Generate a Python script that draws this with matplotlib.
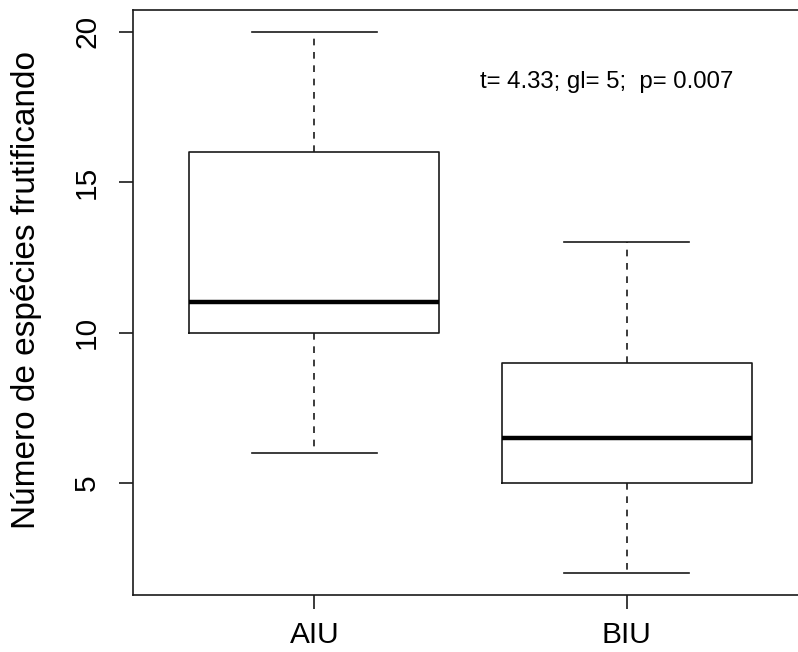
import matplotlib
matplotlib.use("Agg")
import matplotlib.pyplot as plt

# boxplot summary for each site group
groups = ["AIU", "BIU"]
whis_lo = [6, 2]
q1 = [10, 5]
medians = [11, 6.5]
q3 = [16, 9]
whis_hi = [20, 13]

ylabel = "Número de espécies frutificando"
stat_text = "t= 4.33; gl= 5;  p= 0.007"

plt.rcParams['font.family'] = ['Liberation Sans', 'DejaVu Sans']

fig = plt.figure(figsize=(7.98, 6.52), dpi=100)
# right edge runs past the canvas, so the right frame line is cut off
ax = fig.add_axes([133 / 798, 57 / 652, 675 / 798, 585 / 652])

stats = []
for g, lo, a, m, b, hi in zip(groups, whis_lo, q1, medians, q3, whis_hi):
    stats.append(dict(label=g, whislo=lo, q1=a, med=m, q3=b, whishi=hi, fliers=[]))

ink = '#1a1a1a'
ax.bxp(stats, positions=[1, 2], widths=0.8, capwidths=0.4,
       boxprops=dict(color=ink, linewidth=1.2),
       whiskerprops=dict(color=ink, linewidth=1.2, linestyle=(0, (4, 4))),
       capprops=dict(color=ink, linewidth=1.2),
       medianprops=dict(color='black', linewidth=3.2, solid_capstyle='butt'),
       showfliers=False)

ax.set_xlim(0.42, 2.58)
ax.set_ylim(1.28, 20.72)
ax.set_yticks([5, 10, 15, 20])
ax.set_xticks([1, 2])
ax.set_xticklabels(groups)

for s in ax.spines.values():
    s.set_color(ink)
    s.set_linewidth(1.2)

ax.tick_params(axis='both', direction='out', length=10, width=1.2, color=ink,
               labelsize=21.5)
ax.tick_params(axis='x', pad=9)
ax.tick_params(axis='y', pad=13)
for lab in ax.get_yticklabels():
    lab.set_rotation(90)
    lab.set_va('center')

ax.text(1.935, 18.33, stat_text, ha='center', va='center', fontsize=17.3)

fig.text(27 / 798, 1 - 290 / 652, ylabel, rotation=90, ha='center', va='center',
         fontsize=24)

fig.savefig("out.png", dpi=100)
